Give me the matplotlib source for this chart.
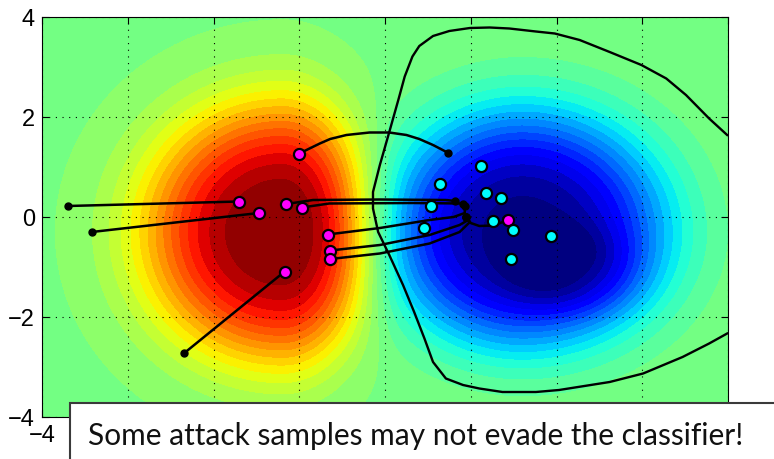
import numpy as np
import matplotlib.pyplot as plt
from matplotlib.patches import Rectangle
from matplotlib.colors import Normalize

# attacker objective, modelled as lopsided bumps:
# centre x, centre y, width left/right, width down/up, weight
bump_x = [-1.2, 1.6, 2.2]
bump_y = [-0.3, -0.3, -1.1]
bump_sxl = [1.62, 1.55, 0.8]
bump_sxr = [1.0, 1.68, 0.8]
bump_syd = [2.6, 2.3, 0.9]
bump_syu = [2.6, 2.45, 0.9]
bump_w = [1.0, -1.0, -0.15]

# decision boundary g(x) = 0, traced
bound_x = [3.99, 3.78, 3.51, 3.28, 2.99, 2.62, 2.27, 1.98, 1.76, 1.45, 1.22, 0.99, 0.75,
           0.56, 0.40, 0.32, 0.23, 0.16, 0.05, -0.06, -0.14, -0.14, -0.08, 0.05, 0.21,
           0.34, 0.46, 0.56, 0.71, 0.91, 1.10, 1.37, 1.76, 2.03, 2.62, 3.01, 3.47, 3.78, 3.99]
bound_y = [1.64, 1.97, 2.44, 2.77, 3.04, 3.30, 3.54, 3.67, 3.71, 3.77, 3.79, 3.78, 3.72,
           3.62, 3.42, 3.21, 2.81, 2.37, 1.70, 1.04, 0.50, 0.17, -0.30, -0.76, -1.36,
           -1.90, -2.43, -2.90, -3.23, -3.36, -3.43, -3.50, -3.50, -3.46, -3.30, -3.13, -2.80, -2.53, -2.33]

# legitimate samples
legit_x = [1.12, 0.64, 1.18, 1.35, 0.54, 0.46, 1.26, 1.49, 1.94, 1.47]
legit_y = [1.03, 0.67, 0.49, 0.39, 0.23, -0.21, -0.08, -0.25, -0.37, -0.84]

# attack paths: first point = initial attack, last point = final sample
paths = [
    [(-3.70, 0.22), (-1.70, 0.31)],
    [(-3.42, -0.30), (-1.47, 0.08)],
    [(-2.34, -2.72), (-1.17, -1.09)],
    [(0.74, 1.28), (0.56, 1.44), (0.40, 1.56), (0.25, 1.64), (0.05, 1.69), (-0.18, 1.69),
     (-0.45, 1.64), (-0.64, 1.56), (-0.76, 1.47), (-0.88, 1.37), (-1.00, 1.27)],
    [(0.82, 0.32), (0.71, 0.34), (-0.06, 0.35), (-0.84, 0.34), (-1.15, 0.26)],
    [(0.91, 0.27), (0.32, 0.28), (-0.65, 0.27), (-0.97, 0.19)],
    [(0.93, 0.22), (0.93, 0.08), (0.80, 0.0), (0.52, -0.06), (-0.06, -0.22), (-0.67, -0.35)],
    [(0.95, 0.0), (0.95, -0.08), (0.87, -0.16), (0.52, -0.36), (-0.06, -0.56), (-0.64, -0.67)],
    [(0.95, 0.0), (0.99, -0.10), (0.87, -0.30), (0.52, -0.53), (-0.06, -0.73), (-0.64, -0.84)],
    [(0.95, 0.0), (1.00, -0.12), (1.10, -0.18), (1.26, -0.17), (1.44, -0.06)],
]

x_ticks = [-4, -3, -2, -1, 0, 1, 2, 3, 4]
y_ticks = [-4, -2, 0, 2, 4]

message = "Some attack samples may not evade the classifier!"

xs = np.linspace(-4, 4, 500)
ys = np.linspace(-4, 4, 500)
X, Y = np.meshgrid(xs, ys)
F = np.zeros_like(X)
for cx, cy, sxl, sxr, syd, syu, w in zip(bump_x, bump_y, bump_sxl, bump_sxr,
                                          bump_syd, bump_syu, bump_w):
    sx = np.where(X < cx, sxl, sxr)
    sy = np.where(Y < cy, syd, syu)
    r = np.sqrt(((X - cx) / sx)**2 + ((Y - cy) / sy)**2)
    F += w * np.exp(-r**3)

fig = plt.figure(figsize=(7.74, 4.6), dpi=100)
ax = fig.add_axes([42/774, 42/460, 686/774, 400/460])

levels = np.linspace(-1.02, 1.02, 32) - 0.02
ax.contourf(X, Y, F, levels=levels, cmap='jet', norm=Normalize(-1, 1),
            extend='both', zorder=0)
ax.grid(True, color='k', linestyle=(0, (1, 5)), linewidth=0.8)
ax.set_axisbelow(False)

ax.plot(bound_x, bound_y, color='k', lw=1.7, zorder=3)
for p in paths:
    px, py = zip(*p)
    ax.plot(px, py, color='k', lw=1.8, zorder=4)
    ax.plot(px[0], py[0], 'o', color='k', ms=5, zorder=5)
    ax.plot(px[-1], py[-1], 'o', mfc='#ff00ff', mec='k', mew=1.6, ms=8, zorder=6)

ax.plot(legit_x, legit_y, 'o', mfc='#00ffff', mec='k', mew=1.6, ms=8, ls='none', zorder=6)

ax.set_xlim(-4, 4)
ax.set_ylim(-4, 4)
ax.set_xticks(x_ticks)
ax.set_yticks(y_ticks)
ax.tick_params(direction='in', top=True, right=True, length=5, labelsize=17, pad=5)
for lab in ax.get_xticklabels() + ax.get_yticklabels():
    lab.set_family('Liberation Sans')

# callout box, drawn over the x tick labels as in the slide
fig.patches.append(Rectangle((70/774, -0.2), 1.0, 0.2 + 56/460, transform=fig.transFigure,
                             fc='white', ec='#3a3a3a', lw=1.5, zorder=10))
t = fig.text(88/774, 24/460, message, fontsize=20, family='Lato', color='#111111',
             va='center', ha='left', zorder=11)
fig.canvas.draw()
w = t.get_window_extent().width
t.set_fontsize(20 * 657 / w)

fig.savefig('out.png', dpi=100)
